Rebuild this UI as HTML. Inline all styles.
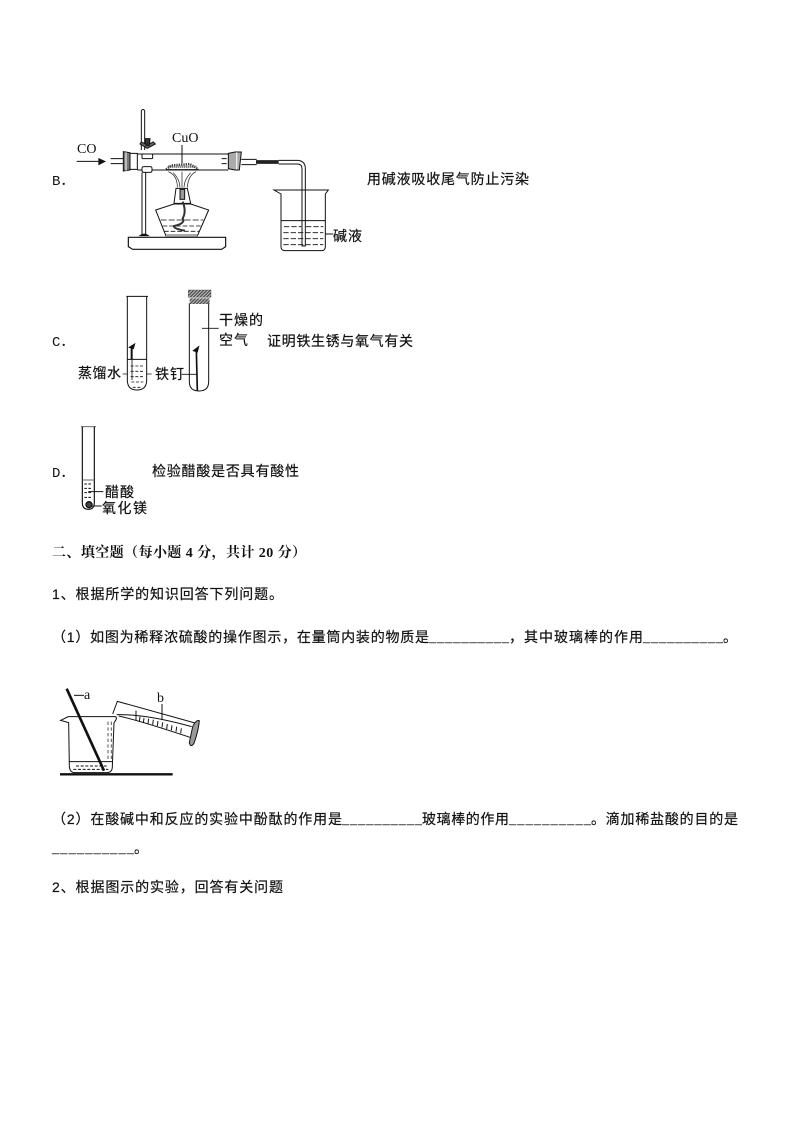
<!DOCTYPE html>
<html><head><meta charset="utf-8"><style>
html,body{margin:0;padding:0;background:#fff;width:794px;height:1123px;overflow:hidden}
svg{display:block;position:absolute;left:0;top:0}
text{font-family:"Liberation Serif","Noto Serif CJK SC",serif;font-size:14px;fill:#111}
.c{font-family:"Liberation Sans","WenQuanYi Zen Hei","Noto Sans CJK SC",sans-serif;stroke:#111;stroke-width:.2}
.m{font-family:"Liberation Mono",monospace}
.u{font-family:"Liberation Mono",monospace;font-size:12px;stroke:#111;stroke-width:.2}
.b{font-family:"Liberation Serif","Noto Serif CJK SC",serif;font-weight:700}
</style></head><body>
<svg width="794" height="1123" viewBox="0 0 794 1123" xmlns="http://www.w3.org/2000/svg">
<defs>
<pattern id="h" width="7" height="7" patternUnits="userSpaceOnUse" patternTransform="rotate(45)">
<rect width="7" height="7" fill="#555"/><rect width="2.5" height="7" fill="#ccc"/>
</pattern>
</defs>
<rect width="794" height="1123" fill="#fff"/>

<!-- B apparatus -->
<g transform="translate(40,100) scale(.33333)" fill="none" stroke="#111" stroke-width="3">
<path d="M304 150V32Q309 24 314 32V150"/>
<path d="M110 184H175M212 176H250M212 191H250"/>
<path d="M175 174L198 184L175 196Z" fill="#111" stroke="none"/>
<path d="M250 155L270 158V210L250 213Z" fill="#777"/>
<path d="M258 157V212" stroke="#ddd" stroke-width="4"/>
<path d="M270 160H292V208H270"/><path d="M292 162H565M292 210H565"/>
<path d="M565 160L585 156H604L598 210H585L565 206Z" fill="#aaa"/>
<path d="M590 157V208" stroke="#eee" stroke-width="4"/>
<path d="M545 176H560M545 191H560"/>
<path d="M604 178H650M604 194H650"/>
<path d="M648 186H716" stroke-width="11" stroke="#222"/>
<path d="M716 181H775Q796 184 796 205V438H786V205Q786 192 772 192H716"/>
<rect x="306" y="162" width="32" height="14" rx="3" fill="#fff"/>
<rect x="306" y="200" width="30" height="17" rx="5" fill="#fff"/>
<path d="M306 218V405M317 218V405"/>
<path d="M322 145L300 132L304 126L322 134L340 126L346 132Z" fill="#666"/>
<path d="M315 116L330 116L328 136L318 136Z" fill="#333"/>
<path d="M426 135V190"/>
<path d="M378 208L395 196L450 192L475 208" stroke="#444" stroke-width="7" stroke-dasharray="4 3"/>
<path d="M385 200H470" stroke="#444" stroke-width="7" stroke-dasharray="3 3"/>
<path d="M378 209H476" stroke-width="3"/>
<path d="M385 215Q412 225 412 262M468 215Q445 225 442 262M400 218Q420 240 420 262M452 218Q432 240 432 262M426 215V262" stroke-width="2"/>
<path d="M408 265H442L452 310H402Z" fill="#fff"/>
<rect x="420" y="268" width="14" height="30" fill="#999"/>
<path d="M347 330L402 312H452L506 330L472 408H378Z"/>
<path d="M362 360H490" stroke-dasharray="18 6" stroke-width="2.5"/>
<path d="M368 378H482M372 394H478" stroke-dasharray="14 6" stroke-width="2.5"/>
<path d="M428 305Q440 335 428 355Q438 370 402 378Q400 386 435 392" stroke-width="6" stroke="#333"/>
<rect x="378" y="402" width="94" height="10" fill="#aaa" stroke="none"/>
<path d="M265 412H557V440L545 448H278L265 440Z" stroke-width="3.5"/>
<path d="M300 407Q312 398 325 407Z" fill="#111"/>
<path d="M702 270H865L856 282V440Q856 452 845 452H735Q723 452 723 440V282Z"/>
<path d="M723 362H856" />
<path d="M732 380H784M798 380H850M730 398H850M730 416H850M730 434H850" stroke-dasharray="16 6" stroke-width="2.5"/>
<path d="M856 402H880"/>
</g>

<!-- C apparatus -->
<g transform="translate(40,280) scale(.33333)" fill="none" stroke="#111" stroke-width="3">
<path d="M259 49H324M262 50V300Q262 330 291 330Q320 330 320 300V50"/>
<path d="M262 238H320"/>
<path d="M272 258H312M272 274H312M272 290H312M274 306H310M278 322H304" stroke-dasharray="9 5" stroke-width="2.5"/>
<path d="M275 200V238" stroke-width="6"/><path d="M268 202L284 192L280 206Z" fill="#111"/>
<path d="M276 238V300M248 282H262M320 282H335" stroke-width="2.5"/>
<rect x="445" y="30" width="68" height="22" fill="url(#h)" stroke="#333" stroke-width="1"/>
<rect x="449" y="55" width="60" height="17" fill="url(#h)" stroke="none"/>
<path d="M448 70V305Q448 333 477 333Q506 333 506 305V70"/>
<path d="M486 145H536M425 283H470" stroke-width="2.5"/>
<path d="M469 210L472 332" stroke-width="5"/><path d="M460 212L476 200L472 216Z" fill="#111"/>
</g>

<!-- D apparatus -->
<g transform="translate(40,420) scale(.33333)" fill="none" stroke="#111" stroke-width="3">
<path d="M123 20H168" stroke="#666"/><path d="M127 20V248Q127 268 145 268Q163 268 163 248V20" stroke-width="3.5"/>
<path d="M127 180H163" stroke="#666"/>
<path d="M133 192H157M133 205H157M133 218H157M133 232H157" stroke-dasharray="8 4"/>
<path d="M145 215H190M150 258H185"/>
<circle cx="147" cy="254" r="9" fill="#444" stroke-width="4"/>
</g>

<!-- beaker + cylinder -->
<g transform="translate(40,680) scale(.33333)" fill="none" stroke="#111" stroke-width="3">
<path d="M62 121L85 110H225Q235 112 222 128L217 260Q217 278 200 278H105Q90 278 88 260L86 128Z"/>
<path d="M88 245H217"/>
<path d="M108 258H200M100 268H205" stroke-dasharray="9 5" stroke-width="3"/>
<path d="M204 125V240M214 125V240" stroke-dasharray="10 7" stroke-width="3" stroke="#555"/>
<path d="M60 283H398" stroke-width="7"/>
<path d="M80 26L192 272" stroke-width="8"/>
<path d="M102 46H132"/>
<path d="M218 102L232 64L476 132"/>
<path d="M230 104C300 102 390 122 455 140"/>
<path d="M236 108C300 122 390 152 450 172"/>
<path d="M288 92V122M300 110L298 125M312 114L310 129M326 116L324 131M340 119L338 134M354 123L352 138M368 127L366 142M382 132L380 147M396 136L394 151M410 140L408 155M424 145L422 160" />
<path d="M366 72V120"/>
<path d="M458 140L448 188Q452 205 462 190Q476 150 478 122Q468 118 458 140Z" fill="#999"/>
</g>

<!-- Diagram labels -->
<text x="172" y="142">CuO</text>
<text x="77" y="153">CO</text>
<text x="157" y="702">b</text>
<text x="84" y="699">a</text>

<text class="m" x="52" y="185">B．</text>
<text class="c" x="367" y="184" textLength="162">用碱液吸收尾气防止污染</text>
<text class="c" x="333" y="241" textLength="29">碱液</text>

<text class="m" x="52" y="346">C．</text>
<text class="c" x="219" y="325" textLength="44">干燥的</text>
<text class="c" x="219" y="345" textLength="29">空气</text>
<text class="c" x="267" y="346" textLength="146">证明铁生锈与氧气有关</text>
<text class="c" x="78" y="378" textLength="43">蒸馏水</text>
<text class="c" x="155" y="379" textLength="29">铁钉</text>

<text class="m" x="52" y="477">D．</text>
<text class="c" x="152" y="476" textLength="147">检验醋酸是否具有酸性</text>
<text class="c" x="105" y="497" textLength="29">醋酸</text>
<text class="c" x="102" y="513" textLength="45">氧化镁</text>

<text class="b" x="52" y="557" textLength="254">二、填空题（每小题 4 分，共计 20 分）</text>
<text class="c" x="52" y="599" textLength="231">1、根据所学的知识回答下列问题。</text>

<text class="c" x="52" y="642" textLength="377">（1）如图为稀释浓硫酸的操作图示，在量筒内装的物质是</text>
<text class="u" x="429" y="642" textLength="80">__________</text>
<text class="c" x="509" y="642" textLength="134">，其中玻璃棒的作用</text>
<text class="u" x="643" y="642" textLength="80">__________</text>
<text class="c" x="723" y="642">。</text>

<text class="c" x="52" y="824" textLength="290">（2）在酸碱中和反应的实验中酚酞的作用是</text>
<text class="u" x="342" y="824" textLength="80">__________</text>
<text class="c" x="422" y="824" textLength="87">玻璃棒的作用</text>
<text class="u" x="509" y="824" textLength="82">__________</text>
<text class="c" x="591" y="824" textLength="147">。滴加稀盐酸的目的是</text>
<text class="u" x="52" y="853" textLength="82">__________</text>
<text class="c" x="134" y="853">。</text>
<text class="c" x="52" y="892" textLength="231">2、根据图示的实验，回答有关问题</text>
</svg>
</body></html>
